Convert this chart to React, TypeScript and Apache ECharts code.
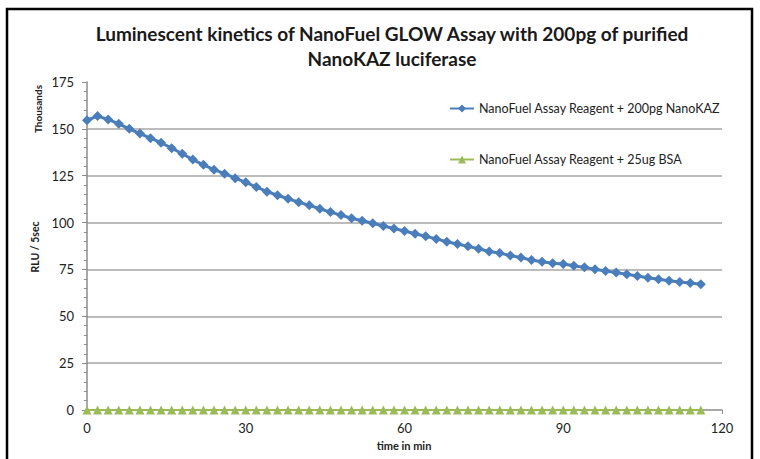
import React, { useEffect, useRef } from "react";
import * as echarts from "echarts";

const timesMin = [
  0, 2, 4, 6, 8, 10, 12, 14, 16, 18, 20, 22, 24, 26, 28, 30, 32, 34, 36, 38,
  40, 42, 44, 46, 48, 50, 52, 54, 56, 58, 60, 62, 64, 66, 68, 70, 72, 74, 76, 78,
  80, 82, 84, 86, 88, 90, 92, 94, 96, 98, 100, 102, 104, 106, 108, 110, 112, 114, 116,
];

const nanoKazRlu = [
  154.6, 156.8, 155.0, 152.7, 150.0, 147.5, 145.0, 142.6, 139.7, 136.7,
  133.6, 130.8, 128.2, 126.1, 123.7, 121.5, 119.0, 116.5, 114.6, 112.7,
  110.9, 109.2, 107.4, 105.6, 104.0, 102.3, 101.0, 99.6, 98.2, 96.8,
  95.5, 94.0, 92.7, 91.3, 89.8, 88.6, 87.3, 86.0, 84.6, 83.7,
  82.4, 81.3, 80.0, 79.1, 78.3, 77.9, 77.0, 76.1, 75.1, 74.2,
  73.3, 72.4, 71.5, 70.6, 69.8, 69.0, 68.3, 67.7, 67.1,
];

const bsaRlu = [
  0, 0, 0, 0, 0, 0, 0, 0, 0, 0, 0, 0, 0, 0, 0, 0, 0, 0, 0, 0,
  0, 0, 0, 0, 0, 0, 0, 0, 0, 0, 0, 0, 0, 0, 0, 0, 0, 0, 0, 0,
  0, 0, 0, 0, 0, 0, 0, 0, 0, 0, 0, 0, 0, 0, 0, 0, 0, 0, 0,
];

const seriesNames = [
  "NanoFuel Assay Reagent + 200pg NanoKAZ",
  "NanoFuel Assay Reagent + 25ug BSA",
];

const titleLines = [
  "Luminescent kinetics of NanoFuel GLOW Assay with 200pg of purified",
  "NanoKAZ luciferase",
];

const FONT = "Lato, 'Open Sans', sans-serif";

export default function App() {
  const ref = useRef<HTMLDivElement>(null);

  useEffect(() => {
    if (!ref.current) return;
    const chart = echarts.init(ref.current, undefined, { renderer: "svg" });
    const pairs = (vals: number[]) => timesMin.map((t, i) => [t, vals[i]]);

    const legendText = { fontFamily: FONT, fontSize: 12.5, color: "#222" };

    chart.setOption({
      animation: false,
      backgroundColor: "#ffffff",
      textStyle: { fontFamily: FONT },
      grid: { left: 87, right: 38, top: 82, bottom: 49, containLabel: false },
      legend: [
        {
          data: [seriesNames[0]],
          left: 444,
          top: 97,
          itemWidth: 24,
          itemHeight: 10,
          textStyle: legendText,
        },
        {
          data: [seriesNames[1]],
          left: 444,
          top: 148,
          itemWidth: 24,
          itemHeight: 10,
          textStyle: legendText,
        },
      ],
      xAxis: {
        type: "value",
        min: 0,
        max: 120,
        interval: 30,
        axisLine: { show: true, lineStyle: { color: "#8c8c8c", width: 1.5 } },
        axisTick: { show: true, length: 4, lineStyle: { color: "#8c8c8c" } },
        splitLine: { show: false },
        axisLabel: { margin: 11, fontSize: 13, color: "#222", fontFamily: FONT },
      },
      yAxis: {
        type: "value",
        min: 0,
        max: 175,
        interval: 25,
        axisLine: { show: true, lineStyle: { color: "#8c8c8c", width: 1.5 } },
        axisTick: { show: true, length: 5, lineStyle: { color: "#8c8c8c", width: 1 } },
        minorTick: { show: true, splitNumber: 5, length: 3, lineStyle: { color: "#8c8c8c", width: 1 } },
        splitLine: {
          show: true,
          showMaxLine: false,
          showMinLine: false,
          lineStyle: { color: "#a6a6a6", width: 1.5 },
        },
        axisLabel: { margin: 13, fontSize: 13, color: "#222", fontFamily: FONT },
      },
      graphic: [
        {
          type: "rect",
          shape: { x: 7, y: 9, width: 745, height: 470 },
          style: { fill: "none", stroke: "#000", lineWidth: 2.5 },
          silent: true,
        },
        {
          type: "text",
          x: 392,
          y: 33,
          style: {
            text: titleLines[0],
            fontFamily: FONT,
            fontSize: 19,
            fontWeight: "bold",
            fill: "#1a1a1a",
            textAlign: "center",
            textVerticalAlign: "middle",
          },
        },
        {
          type: "text",
          x: 392,
          y: 58,
          style: {
            text: titleLines[1],
            fontFamily: FONT,
            fontSize: 19,
            fontWeight: "bold",
            fill: "#1a1a1a",
            textAlign: "center",
            textVerticalAlign: "middle",
          },
        },
        {
          type: "text",
          x: 38,
          y: 109,
          rotation: Math.PI / 2,
          style: {
            text: "Thousands",
            fontFamily: FONT,
            fontSize: 10,
            fontWeight: "bold",
            fill: "#222",
            textAlign: "center",
            textVerticalAlign: "middle",
          },
        },
        {
          type: "text",
          x: 35,
          y: 247,
          rotation: Math.PI / 2,
          style: {
            text: "RLU / 5sec",
            fontFamily: FONT,
            fontSize: 10.5,
            fontWeight: "bold",
            fill: "#222",
            textAlign: "center",
            textVerticalAlign: "middle",
          },
        },
        {
          type: "text",
          x: 404,
          y: 445,
          style: {
            text: "time in min",
            fontFamily: FONT,
            fontSize: 11,
            fontWeight: "bold",
            fill: "#222",
            textAlign: "center",
            textVerticalAlign: "middle",
          },
        },
      ],
      series: [
        {
          name: seriesNames[0],
          type: "line",
          data: pairs(nanoKazRlu),
          symbol: "diamond",
          symbolSize: 10,
          lineStyle: { color: "#4a7ebb", width: 3 },
          itemStyle: { color: "#4a7ebb" },
          z: 3,
        },
        {
          name: seriesNames[1],
          type: "line",
          data: pairs(bsaRlu),
          symbol: "triangle",
          symbolSize: 9,
          lineStyle: { color: "#9bbb59", width: 2 },
          itemStyle: { color: "#9bbb59" },
          z: 4,
        },
      ],
    });

    return () => chart.dispose();
  }, []);

  return (
    <div
      ref={ref}
      style={{ position: "fixed", left: 0, top: 0, width: 760, height: 459 }}
    />
  );
}
